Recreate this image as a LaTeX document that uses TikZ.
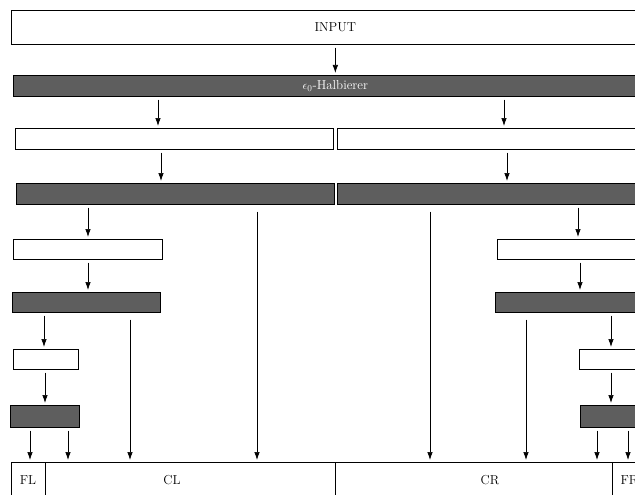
\documentclass[tikz,border=0pt]{standalone}
\usepackage{tikz}
\usetikzlibrary{arrows.meta}

\begin{document}
\begin{tikzpicture}[x=1pt,y=-1pt,
  blk/.style={draw,line width=0.7pt,anchor=north west,inner sep=0pt,font=\fontsize{13}{15}\selectfont},
  wbox/.style={blk,fill=white},
  gbox/.style={blk,fill=black!63,text=white},
  lbl/.style={font=\fontsize{13}{15}\selectfont,inner sep=0pt},
  arr/.style={-{Latex[length=8pt,width=5.5pt]},line width=0.7pt,shorten <=3pt,shorten >=2pt},
  longarr/.style={arr,shorten <=7pt}]
\useasboundingbox (0,0) rectangle (635,495);
\clip (0,0) rectangle (635,495);
% stages
\node[wbox,minimum width=648pt,minimum height=34pt] (input) at (11,10) {INPUT};
\node[gbox,minimum width=644pt,minimum height=21pt] (halb) at (13,75) {$\epsilon_0$-Halbierer};
\node[wbox,minimum width=318pt,minimum height=21pt] (wl1) at (15,128) {};
\node[wbox,minimum width=318pt,minimum height=21pt] (wr1) at (337,128) {};
\node[gbox,minimum width=318pt,minimum height=21pt] (gl1) at (16,183) {};
\node[gbox,minimum width=318pt,minimum height=21pt] (gr1) at (337,183) {};
\node[wbox,minimum width=149pt,minimum height=20pt] (wl2) at (13,239) {};
\node[wbox,minimum width=160pt,minimum height=20pt] (wr2) at (497,239) {};
\node[gbox,minimum width=148pt,minimum height=20pt] (gl2) at (12,292) {};
\node[gbox,minimum width=160pt,minimum height=20pt] (gr2) at (495,292) {};
\node[wbox,minimum width=65pt,minimum height=20pt] (wl3) at (13,349) {};
\node[wbox,minimum width=80pt,minimum height=20pt] (wr3) at (579,349) {};
\node[gbox,minimum width=69pt,minimum height=22pt] (gl3) at (10,405) {};
\node[gbox,minimum width=80pt,minimum height=22pt] (gr3) at (580,405) {};
% output cells
\node[blk,minimum width=34pt,minimum height=35pt] (fl) at (11,462) {};
\node[blk,minimum width=290pt,minimum height=35pt] (cl) at (45,462) {};
\node[blk,minimum width=277pt,minimum height=35pt] (cr) at (335,462) {};
\node[blk,minimum width=47pt,minimum height=35pt] (fr) at (612,462) {};
\node[lbl] (tfl) at (28,480) {FL};
\node[lbl] (tcl) at (172,480) {CL};
\node[lbl] (tcr) at (490,480) {CR};
\node[lbl] (tfr) at (629.5,480) {FR};
% arrows
\draw[arr] (input) -- (halb);
\draw[arr] (halb.south -| 158,0) -- (wl1.north -| 158,0);
\draw[arr] (halb.south -| 504,0) -- (wr1.north -| 504,0);
\draw[arr] (wl1.south -| 161,0) -- (gl1.north -| 161,0);
\draw[arr] (wr1.south -| 507,0) -- (gr1.north -| 507,0);
\draw[arr] (gl1.south -| 88,0) -- (wl2.north -| 88,0);
\draw[longarr] (gl1.south -| 257,0) -- (cl.north -| 257,0);
\draw[longarr] (gr1.south -| 430,0) -- (cr.north -| 430,0);
\draw[arr] (gr1.south -| 578,0) -- (wr2.north -| 578,0);
\draw[arr] (wl2.south -| 88,0) -- (gl2.north -| 88,0);
\draw[arr] (wr2.south -| 580,0) -- (gr2.north -| 580,0);
\draw[arr] (gl2.south -| 44,0) -- (wl3.north -| 44,0);
\draw[longarr] (gl2.south -| 130,0) -- (cl.north -| 130,0);
\draw[longarr] (gr2.south -| 526,0) -- (cr.north -| 526,0);
\draw[arr] (gr2.south -| 611,0) -- (wr3.north -| 611,0);
\draw[arr] (wl3.south -| 45,0) -- (gl3.north -| 45,0);
\draw[arr] (wr3.south -| 611,0) -- (gr3.north -| 611,0);
\draw[arr] (gl3.south -| 30,0) -- (fl.north -| 30,0);
\draw[arr] (gl3.south -| 68,0) -- (cl.north -| 68,0);
\draw[arr] (gr3.south -| 597,0) -- (cr.north -| 597,0);
\draw[arr] (gr3.south -| 628,0) -- (fr.north -| 628,0);
\end{tikzpicture}
\end{document}
